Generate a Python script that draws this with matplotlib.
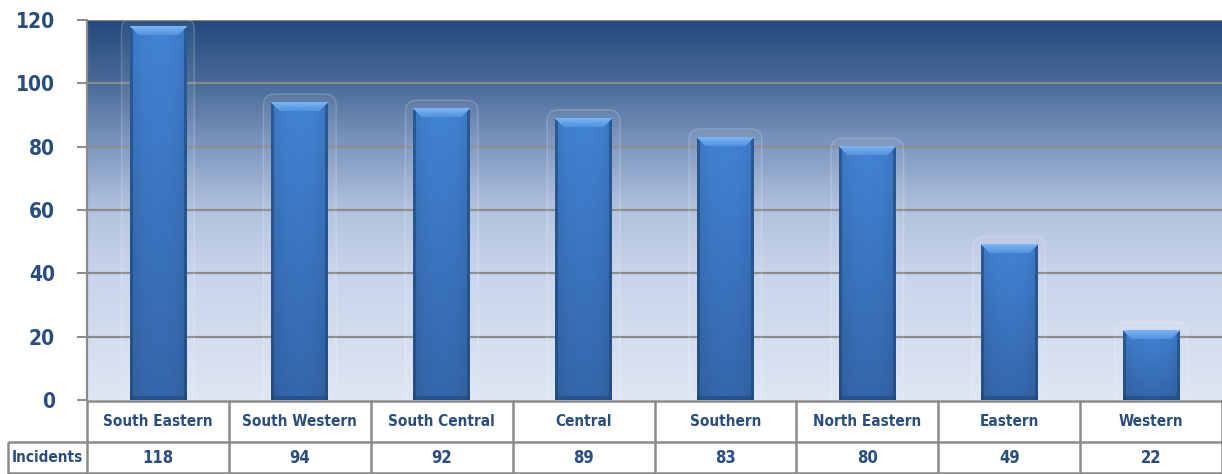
import numpy as np
import matplotlib
matplotlib.use("Agg")
import matplotlib.pyplot as plt
from matplotlib import font_manager
from matplotlib.patches import FancyBboxPatch
from matplotlib.colors import to_rgb

regions = ["South Eastern", "South Western", "South Central", "Central",
           "Southern", "North Eastern", "Eastern", "Western"]
incidents = [118, 94, 92, 89, 83, 80, 49, 22]
y_ticks = [0, 20, 40, 60, 80, 100, 120]
row_label = "Incidents"

# pick a narrow bold face if one is installed
names = {f.name for f in font_manager.fontManager.ttflist}
if "Liberation Sans Narrow" in names:
    FONT = dict(family="Liberation Sans Narrow", weight="bold")
else:
    FONT = dict(family="DejaVu Sans", weight="bold", stretch="condensed")

TXT = "#2a4d7f"
GRID = "#8a8a8a"

fig = plt.figure(figsize=(12.22, 4.74), dpi=100)
ax = fig.add_axes([87 / 1222, 74 / 474, 1 - 87 / 1222, 380 / 474])
ax.set_xlim(-0.5, len(regions) - 0.5)
ax.set_ylim(0, 120)

# background: navy at the top fading to pale blue
stops = [0, 0.167, 0.333, 0.5, 0.667, 0.833, 1.0]
cols = np.array([to_rgb(c) for c in ["#234a7d", "#4a6b98", "#7e98c0", "#b2c2de",
                                     "#c8d4ea", "#d3ddef", "#dfe6f3"]])
t = np.linspace(0, 1, 380)
grad = np.stack([np.interp(t, stops, cols[:, k]) for k in range(3)], axis=1)
ax.imshow(grad[:, None, :].repeat(2, axis=1), extent=(-0.5, len(regions) - 0.5, 0, 120),
          aspect="auto", zorder=0, origin="upper")

for y in y_ticks[1:]:
    ax.axhline(y, color=GRID, lw=1.6, zorder=1)

for s in ["top", "right", "bottom"]:
    ax.spines[s].set_visible(False)
ax.spines["left"].set_color(GRID)
ax.spines["left"].set_linewidth(1.6)
ax.set_yticks(y_ticks)
ax.set_yticklabels([str(v) for v in y_ticks], color=TXT, fontsize=15, **FONT)
ax.tick_params(axis="y", length=7, width=1.4, color=GRID, pad=16)
ax.set_xticks([])

x = np.arange(len(regions))
bar_w = 0.4
bars = ax.bar(x, incidents, width=bar_w, color="#3b78c6", zorder=3, linewidth=0)

fig.canvas.draw()
px_x = ax.transData.transform((1, 0))[0] - ax.transData.transform((0, 0))[0]
px_y = ax.transData.transform((0, 1))[1] - ax.transData.transform((0, 0))[1]

face_top = np.array(to_rgb("#4283d4"))
face_bot = np.array(to_rgb("#3467ab"))
bev_hi = np.array(to_rgb("#7cb4f3"))
bev_lo = np.array(to_rgb("#4f8fdc"))
dark = np.array(to_rgb("#1d4577"))


def bevel_image(w, h, b=9, s=3):
    yy, xx = np.mgrid[0:h, 0:w]
    v = (yy / max(h - 1, 1))[..., None]
    img = face_top + (face_bot - face_top) * v
    # soft horizontal shading across the face
    u = (xx / (w - 1) - 0.5)[..., None]
    img = img * (1 - 0.35 * u ** 2)
    left = xx < s
    right = xx >= w - s
    bottom = yy >= h - s - 1
    topb = (yy < b) & (xx >= yy) & (xx < w - yy)
    img[left | right] = img[left | right] * 0.4 + dark * 0.6
    img[bottom] = img[bottom] * 0.45 + dark * 0.55
    tv = (yy / b)[..., None]
    bev = bev_hi + (bev_lo - bev_hi) * tv
    img = np.where(topb[..., None], bev, img)
    return np.clip(img, 0, 1)


for rect, val in zip(bars, incidents):
    x0 = rect.get_x()
    w_px = int(round(bar_w * px_x))
    h_px = max(int(round(val * px_y)), 12)
    ax.imshow(bevel_image(w_px, h_px), extent=(x0, x0 + bar_w, 0, val), aspect="auto",
              zorder=3, origin="upper", interpolation="bilinear")
    # faint glassy halo round each bar
    pad = 8 / px_x
    halo = FancyBboxPatch((x0 - pad * 0.2, 0), bar_w + pad * 0.4, val + 0.6,
                          boxstyle=f"round,pad={pad * 0.8},rounding_size={pad * 1.4}",
                          mutation_aspect=px_x / px_y,
                          facecolor=(1, 1, 1, 0.05), edgecolor=(1, 1, 1, 0.2),
                          lw=1.0, zorder=2, clip_on=True)
    ax.add_patch(halo)

ax.set_xlim(-0.5, len(regions) - 0.5)
ax.set_ylim(0, 120)

# data table under the plot
tab = fig.add_axes([0, 0, 1, 74 / 474])
tab.set_xlim(0, 1222)
tab.set_ylim(0, 74)
tab.axis("off")
left_px = 87
col_w = (1222 - left_px) / len(regions)
lk = dict(color=GRID, lw=1.8, solid_capstyle="butt")
tab.plot([left_px, 1222], [73.5, 73.5], **lk)
tab.plot([8, 1222], [32, 32], **lk)
tab.plot([8, 1222], [0.8, 0.8], **lk)
tab.plot([8, 8], [0, 32], **lk)
for i in range(len(regions) + 1):
    xe = left_px + i * col_w
    tab.plot([xe, xe], [0, 74], **lk)
for i, (name, val) in enumerate(zip(regions, incidents)):
    cx = left_px + (i + 0.5) * col_w
    tab.text(cx, 52, name, ha="center", va="center", color=TXT, fontsize=11, **FONT)
    tab.text(cx, 16, str(val), ha="center", va="center", color=TXT, fontsize=12, **FONT)
tab.text((8 + left_px) / 2, 16, row_label, ha="center", va="center", color=TXT, fontsize=11, **FONT)

fig.savefig("out.png", dpi=100, facecolor="white")
